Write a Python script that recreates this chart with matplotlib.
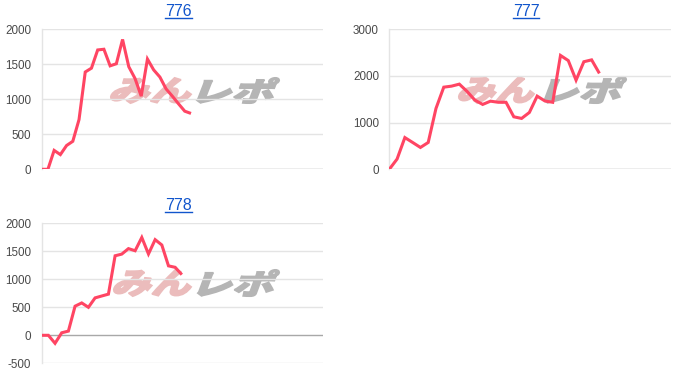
import matplotlib
matplotlib.use("Agg")
import matplotlib.pyplot as plt
from matplotlib.lines import Line2D
from matplotlib.textpath import TextPath
from matplotlib.patches import PathPatch
from matplotlib.font_manager import FontProperties
from matplotlib.transforms import Affine2D
import numpy as np

# ---- data ----
titles = ["776", "777", "778"]
values_776 = [0, 0, 270, 210, 340, 400, 710, 1390, 1445, 1705, 1715, 1478, 1508,
              1855, 1465, 1298, 1045, 1575, 1420, 1318, 1148, 1045, 935, 830, 798]
values_777 = [0, 220, 680, 575, 468, 575, 1305, 1760, 1782, 1825, 1668, 1482, 1390,
              1460, 1436, 1436, 1125, 1090, 1218, 1568, 1464, 1436, 2440, 2330, 1910,
              2305, 2345, 2055]
values_778 = [0, 0, -143, 45, 75, 520, 578, 500, 668, 702, 735, 1420, 1450, 1548,
              1510, 1747, 1452, 1708, 1613, 1240, 1214, 1083]
yticks_776 = [0, 500, 1000, 1500, 2000]
yticks_777 = [0, 1000, 2000, 3000]
yticks_778 = [-500, 0, 500, 1000, 1500, 2000]
xmax_776, xmax_777, xmax_778 = 45.27, 36.2, 42.2
watermark_left = "みん"
watermark_right = "レポ"

W, H = 700, 388
fig = plt.figure(figsize=(W / 100, H / 100), dpi=100)
fig.patch.set_facecolor("white")

LINE = "#ff4563"
GRID = "#e4e4e4"
BASE = "#a8a8a8"
TICKC = "#4a4a4a"
LINKC = "#1155cc"
FONT = "Liberation Sans"


def px_axes(l, t, r, b):
    return [l / W, 1 - b / H, (r - l) / W, (b - t) / H]


def place_path(text, box, color):
    # box = (x0, y_top, x1, y_bottom) in pixels (top-left origin)
    fp = FontProperties(family="Noto Sans CJK JP", weight="black")
    tp = TextPath((0, 0), text, size=1, prop=fp)
    sk = Affine2D().skew_deg(14, 0)
    p = sk.transform_path(tp)
    ext = p.get_extents()
    x0, yt, x1, yb = box
    x0 += 0.8; x1 -= 0.8; yt += 0.8; yb -= 0.8
    sx = (x1 - x0) / ext.width
    sy = (yb - yt) / ext.height
    tr = (sk + Affine2D().translate(-ext.x0, -ext.y0).scale(sx, sy)
          .translate(x0, H - yb).scale(1 / 100.0) + fig.dpi_scale_trans)
    patch = PathPatch(tp, transform=tr, facecolor=color, edgecolor=color,
                      linewidth=1.2, joinstyle="miter", zorder=1)
    fig.add_artist(patch)


def make_chart(rect, vals, yticks, xmax, title, title_xy, wm):
    ax = fig.add_axes(px_axes(*rect))
    ax.set_facecolor("none")
    ax.set_zorder(2)
    x = np.arange(len(vals))
    ax.set_xlim(0, xmax)
    ax.set_ylim(yticks[0], yticks[-1])
    for yv in yticks:
        ax.axhline(yv, color=BASE if yv == 0 else GRID, lw=1.0, zorder=1)
    ax.plot(x, vals, color=LINE, lw=2.2, zorder=3, solid_joinstyle="miter",
            solid_capstyle="butt")
    for s in ["top", "right", "bottom"]:
        ax.spines[s].set_visible(False)
    ax.spines["left"].set_color(GRID)
    ax.spines["left"].set_linewidth(1.0)
    ax.set_xticks([])
    ax.set_yticks(yticks)
    ax.set_yticklabels([str(v) for v in yticks], fontsize=8.4, color=TICKC,
                       family=FONT)
    ax.tick_params(axis="y", length=0, pad=7.5)
    # watermark
    (l0, l1, r0, r1, yt, yb) = wm
    place_path(watermark_left, (l0, yt, l1, yb), "#ebbcbc")
    place_path(watermark_right, (r0, yt, r1, yb), "#b5b5b5")
    # title
    tx, ty = title_xy
    t = fig.text(tx / W, 1 - ty / H, title, ha="center", va="center",
                 fontsize=11.5, color=LINKC, family=FONT)
    return ax, t


ax1, t1 = make_chart((41.7, 29.3, 323.3, 169.3), values_776, yticks_776, xmax_776,
                     titles[0], (178.7, 11.5), (110, 192, 196, 280, 77, 104))
ax2, t2 = make_chart((389.3, 29.3, 671.0, 169.3), values_777, yticks_777, xmax_777,
                     titles[1], (526.0, 11.5), (458, 535, 543, 627, 76, 104))
ax3, t3 = make_chart((41.7, 223.3, 323.3, 363.3), values_778, yticks_778, xmax_778,
                     titles[2], (178.7, 205.0), (113, 192, 197, 280, 269, 297))

renderer = fig.canvas.get_renderer()
for t in (t1, t2, t3):
    bb = t.get_window_extent(renderer)
    yline = bb.y0 + 1.0
    fig.add_artist(Line2D([bb.x0 / W, bb.x1 / W], [yline / H, yline / H],
                          color=LINKC, lw=1.0, transform=fig.transFigure))

fig.savefig("out.png", dpi=100, facecolor="white")
